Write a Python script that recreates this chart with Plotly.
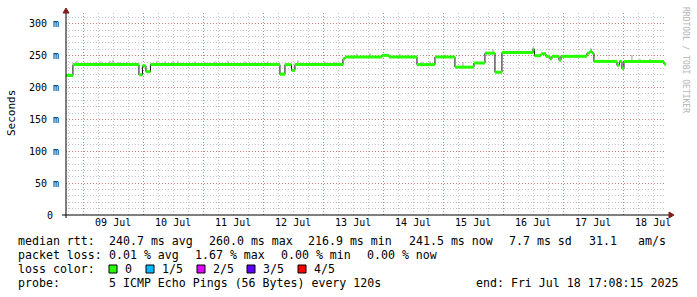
import plotly.graph_objects as go
import pandas as pd

# ---------------- data ----------------
start_time = "2025-07-08 17:08:15"
end_time = "2025-07-18 17:08:15"

med_time = ["2025-07-08 17:08", "2025-07-08 19:55", "2025-07-09 22:19", "2025-07-09 23:43",
            "2025-07-10 01:07", "2025-07-10 02:55", "2025-07-12 06:43", "2025-07-12 08:43",
            "2025-07-12 11:19", "2025-07-12 12:43", "2025-07-13 07:55", "2025-07-13 08:43",
            "2025-07-13 23:31", "2025-07-14 02:19", "2025-07-14 13:31", "2025-07-14 20:43",
            "2025-07-15 04:43", "2025-07-15 12:19", "2025-07-15 16:43", "2025-07-15 20:43",
            "2025-07-15 23:31", "2025-07-16 11:55", "2025-07-16 12:31", "2025-07-16 15:07",
            "2025-07-16 17:07", "2025-07-16 18:43", "2025-07-16 19:31", "2025-07-16 22:19",
            "2025-07-16 23:07", "2025-07-17 09:31", "2025-07-17 10:43", "2025-07-17 11:31",
            "2025-07-17 12:19", "2025-07-17 21:31", "2025-07-17 22:31", "2025-07-17 23:31",
            "2025-07-18 00:19", "2025-07-18 16:19", "2025-07-18 17:08"]
med_ms = [219, 236, 220, 234, 225, 236, 221, 236, 227, 236, 245, 248, 250.5, 248, 236, 248,
          232, 238.5, 254, 224, 255, 260, 250, 253, 249, 245, 249, 243, 249, 254, 257, 254,
          241, 235, 241, 230, 241, 237, 237]

smoke_time = ["2025-07-08 21:31", "2025-07-09 05:07", "2025-07-09 07:07", "2025-07-09 10:43",
              "2025-07-09 11:55", "2025-07-09 14:19", "2025-07-09 17:31", "2025-07-10 05:31",
              "2025-07-10 08:43", "2025-07-10 11:55", "2025-07-10 13:55", "2025-07-10 20:43",
              "2025-07-11 00:43", "2025-07-11 04:43", "2025-07-11 09:55", "2025-07-11 16:43",
              "2025-07-11 20:43", "2025-07-12 01:55", "2025-07-12 13:55", "2025-07-13 00:43",
              "2025-07-13 04:43", "2025-07-13 13:31", "2025-07-13 18:43", "2025-07-14 00:43",
              "2025-07-14 06:43", "2025-07-14 09:55", "2025-07-14 15:31", "2025-07-14 18:43",
              "2025-07-15 00:43", "2025-07-15 07:55", "2025-07-15 13:55", "2025-07-15 19:55",
              "2025-07-16 05:55", "2025-07-16 11:55", "2025-07-16 16:43", "2025-07-17 02:43",
              "2025-07-17 05:55", "2025-07-17 11:07", "2025-07-18 03:31", "2025-07-18 06:43",
              "2025-07-18 10:43"]
smoke_top_ms = [242, 240, 241, 242, 243, 240, 240, 242, 241, 241, 242, 241, 240, 241, 242, 241,
                240, 241, 243, 241, 240, 253, 254, 253, 253, 252, 240, 241, 252, 240, 241, 260,
                258, 263, 256, 251, 251, 262, 251, 245, 245]

day_ticks = ["2025-07-09", "2025-07-10", "2025-07-11", "2025-07-12", "2025-07-13",
             "2025-07-14", "2025-07-15", "2025-07-16", "2025-07-17", "2025-07-18"]
day_label_pos = ["2025-07-09 12:00", "2025-07-10 12:00", "2025-07-11 12:00", "2025-07-12 12:00",
                 "2025-07-13 12:00", "2025-07-14 12:00", "2025-07-15 12:00", "2025-07-16 12:00",
                 "2025-07-17 12:00", "2025-07-18 12:00"]
day_labels = ["09 Jul", "10 Jul", "11 Jul", "12 Jul", "13 Jul", "14 Jul", "15 Jul", "16 Jul",
              "17 Jul", "18 Jul"]
y_tickvals = [0, 50, 100, 150, 200, 250, 300]
y_ticktext = ["0\u00a0", "50 m", "100 m", "150 m", "200 m", "250 m", "300 m"]

loss_labels = ["0", "1/5", "2/5", "3/5", "4/5"]
loss_colors = ["#26ff00", "#00b8ff", "#dd00ff", "#5e00ff", "#ff0000"]

rtt_stats = ["240.7 ms avg", "260.0 ms max", "216.9 ms min", "241.5 ms now", "7.7 ms sd", "31.1", "am/s"]
loss_stats = ["0.01 % avg", "1.67 % max", "0.00 % min", "0.00 % now"]
probe_text = "5 ICMP Echo Pings (56 Bytes) every 120s"
end_text = "end: Fri Jul 18 17:08:15 2025"

# ---------------- layout geometry (pixels) ----------------
W, H = 697, 297
L, R, T, B = 66, 31, 13, 82
PW, PH = W - L - R, H - T - B
MONO = "DejaVu Sans Mono"


def px(x):
    return (x - L) / PW


def py(y):
    return (H - B - y) / PH


# ---------------- traces ----------------
mt = pd.to_datetime(med_time)
fig = go.Figure()

# smoke (individual ping max) as grey spikes above the median
st = pd.to_datetime(smoke_time)
sx, sy = [], []
for t, top in zip(st, smoke_top_ms):
    idx = max(i for i in range(len(mt)) if mt[i] <= t)
    sx += [t, t, None]
    sy += [med_ms[idx], top, None]
fig.add_trace(go.Scatter(x=sx, y=sy, mode="lines", line=dict(color="#9a9a9a", width=1),
                         hoverinfo="skip", showlegend=False))

# thin dark median step line
fig.add_trace(go.Scatter(x=mt, y=med_ms, mode="lines", line=dict(color="#101010", width=1, shape="hv"),
                         hoverinfo="skip", showlegend=False))

# green (loss 0) median segments
gx, gy = [], []
for i in range(len(mt) - 1):
    gx += [mt[i], mt[i + 1], None]
    gy += [med_ms[i], med_ms[i], None]
fig.add_trace(go.Scatter(x=gx, y=gy, mode="lines", line=dict(color=loss_colors[0], width=3),
                         hoverinfo="skip", showlegend=False))

# helper trace for the label axis
fig.add_trace(go.Scatter(x=[day_label_pos[0]], y=[None], xaxis="x2", mode="markers",
                         hoverinfo="skip", showlegend=False))

grid_gray = "rgba(150,150,150,0.55)"
grid_red = "rgba(210,70,70,0.55)"

fig.update_layout(
    width=W, height=H, margin=dict(l=L, r=R, t=T, b=B),
    paper_bgcolor="white", plot_bgcolor="white",
    font=dict(family=MONO, size=10, color="black"),
    xaxis=dict(type="date", range=[start_time, end_time], tickvals=day_ticks,
               showticklabels=False, ticks="", showgrid=True, gridcolor=grid_red,
               griddash="1px,2px", gridwidth=1, showline=False, zeroline=False,
               minor=dict(dtick=6 * 3600 * 1000, tick0="2025-07-09", showgrid=True,
                          gridcolor=grid_gray, griddash="1px,2px", gridwidth=1)),
    xaxis2=dict(type="date", range=[start_time, end_time], overlaying="x", anchor="y", side="bottom",
                tickvals=day_label_pos, ticktext=day_labels, showgrid=False, ticks="",
                showline=False, zeroline=False, tickfont=dict(family=MONO, size=10)),
    yaxis=dict(range=[0, 317], tickvals=y_tickvals, ticktext=y_ticktext, showgrid=True,
               gridcolor=grid_red, griddash="1px,2px", gridwidth=1, zeroline=False, showline=False,
               ticks="", ticklabelstandoff=6, tickfont=dict(family=MONO, size=10),
               minor=dict(dtick=10, tick0=0, showgrid=True, gridcolor=grid_gray,
                          griddash="1px,2px", gridwidth=1)),
)

shapes = []
# axes lines
shapes.append(dict(type="line", xref="paper", yref="paper", x0=px(62), x1=px(669), y0=0, y1=0,
                   line=dict(color="black", width=1), layer="above"))
shapes.append(dict(type="line", xref="paper", yref="paper", x0=0, x1=0, y0=py(218), y1=py(12),
                   line=dict(color="black", width=1), layer="above"))
# arrows
shapes.append(dict(type="path", xref="paper", yref="paper",
                   path=f"M {px(669)} {py(212)} L {px(674)} {py(215)} L {px(669)} {py(218)} Z",
                   fillcolor="#7f1f1f", line=dict(color="#7f1f1f", width=1), layer="above"))
shapes.append(dict(type="path", xref="paper", yref="paper",
                   path=f"M {px(63)} {py(13)} L {px(66)} {py(8)} L {px(69)} {py(13)} Z",
                   fillcolor="#7f1f1f", line=dict(color="#7f1f1f", width=1), layer="above"))

ann = []
LFS = 11.6


def text(x, y, s, **kw):
    d = dict(xref="paper", yref="paper", x=px(x), y=py(y), text=s, showarrow=False,
             xanchor="left", yanchor="middle", font=dict(family=MONO, size=LFS, color="black"))
    d.update(kw)
    ann.append(d)


# y title
text(11, 113, "Seconds", xanchor="center", textangle=-90, font=dict(family=MONO, size=11, color="black"))
# rrdtool watermark
text(686, 60, "RRDTOOL / TOBI OETIKER", xanchor="center", textangle=90,
     font=dict(family=MONO, size=8, color="#b4b4b4"))

# legend lines
row = [241.5, 255, 269, 283]
text(16, row[0], "median rtt:")
for xpos, s in zip([107, 207, 306, 407, 507, 587, 636], rtt_stats):
    text(xpos, row[0], s)
text(16, row[1], "packet loss:")
for xpos, s in zip([107, 193, 279, 365], loss_stats):
    text(xpos, row[1], s)
text(16, row[2], "loss color:")
for xpos, s, c in zip([109, 146, 197, 247, 298], loss_labels, loss_colors):
    shapes.append(dict(type="rect", xref="paper", yref="paper", x0=px(xpos), x1=px(xpos + 8),
                       y0=py(273), y1=py(265), fillcolor=c, line=dict(color="black", width=1),
                       layer="above"))
    text(xpos + 14, row[2], s)
text(16, row[3], "probe:")
text(107, row[3], probe_text)
text(680, row[3], end_text, xanchor="right")

fig.update_layout(shapes=shapes, annotations=ann)
fig.write_html("out.html")
